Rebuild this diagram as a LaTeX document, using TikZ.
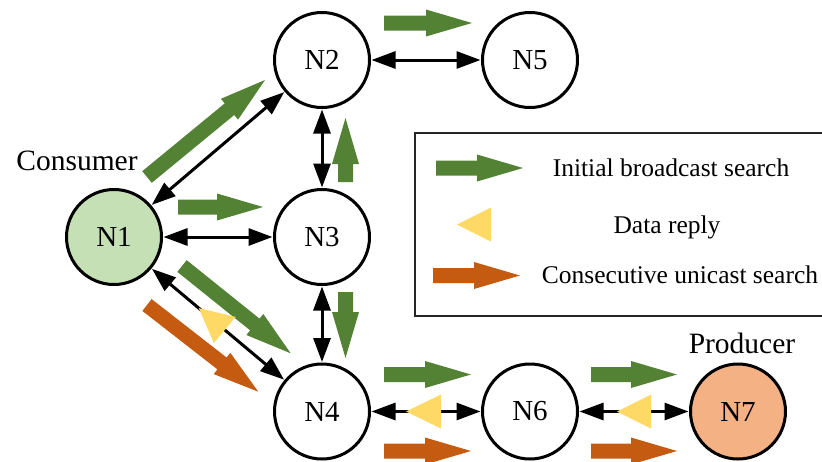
\documentclass[tikz,border=0pt]{standalone}
\usepackage{fontspec}
\setmainfont{Liberation Serif}
\usetikzlibrary{arrows.meta,calc}

\definecolor{bcast}{HTML}{548235}
\definecolor{reply}{HTML}{FFD966}
\definecolor{ucast}{HTML}{C55A11}
\definecolor{consfill}{HTML}{C5E0B4}
\definecolor{prodfill}{HTML}{F4B183}

% block arrow: style, tail point, tip point
\newcommand{\blockarr}[3]{%
  \path (#2) coordinate (ba-t) (#3) coordinate (ba-p);
  \path ($(ba-p)!46pt!(ba-t)$) coordinate (ba-n);
  \fill[#1] ($(ba-t)!7.5pt!90:(ba-p)$) -- ($(ba-n)!7.5pt!90:(ba-p)$)
    -- ($(ba-n)!13.5pt!90:(ba-p)$) -- (ba-p)
    -- ($(ba-n)!13.5pt!-90:(ba-p)$) -- ($(ba-n)!7.5pt!-90:(ba-p)$)
    -- ($(ba-t)!7.5pt!-90:(ba-p)$) -- cycle;}
% reply triangle: tip point, base centre
\newcommand{\replytri}[2]{%
  \path (#1) coordinate (rt-p) (#2) coordinate (rt-b);
  \fill[reply] (rt-p) -- ($(rt-b)!17pt!90:(rt-p)$) -- ($(rt-b)!17pt!-90:(rt-p)$) -- cycle;}

\begin{document}
\begin{tikzpicture}[x=1pt,y=-1pt,
  peer/.style={circle,draw=black,line width=3pt,minimum size=95pt,inner sep=0pt,
    font=\fontsize{29}{34}\selectfont},
  link/.style={line width=3pt,{Triangle[length=24pt,width=17pt]}-{Triangle[length=24pt,width=17pt]},shorten <=0.5pt,shorten >=0.5pt},
  lab/.style={font=\fontsize{29.5}{34}\selectfont,anchor=base},
  legtext/.style={font=\fontsize{25.5}{30}\selectfont,anchor=base}]
\useasboundingbox (0,0) rectangle (822,461);
\clip (0,0) rectangle (822,461);

% peers
\node[peer,fill=consfill] (n1) at (114,237) {N1};
\node[peer] (n2) at (322,60) {N2};
\node[peer] (n3) at (322,237) {N3};
\node[peer] (n4) at (322,411.5) {N4};
\node[peer] (n5) at (530,60) {N5};
\node[peer] (n6) at (530,411.5) {N6};
\node[peer,fill=prodfill] (n7) at (738,411.5) {N7};

\node[lab] (cons) at (77,170) {Consumer};
\node[lab] (prod) at (742,353) {Producer};

% links
\draw[link] (n1) -- (n2);
\draw[link] (n1) -- (n3);
\draw[link] (n1) -- (n4);
\draw[link] (n2) -- (n3);
\draw[link] (n3) -- (n4);
\draw[link] (n2) -- (n5);
\draw[link] (n4) -- (n6);
\draw[link] (n6) -- (n7);

% initial broadcast search
\blockarr{bcast}{384,23}{472,23}
\blockarr{bcast}{147,177}{265,80}
\blockarr{bcast}{178,207}{263,207}
\blockarr{bcast}{345.5,182}{345.5,118}
\blockarr{bcast}{345.5,292}{345.5,358}
\blockarr{bcast}{182,266}{290.7,353.3}
\blockarr{bcast}{384,374.5}{471,374.5}
\blockarr{bcast}{591,374.5}{677,374.5}

% consecutive unicast search
\blockarr{ucast}{147,305}{258.3,391.7}
\blockarr{ucast}{384,451}{471,451}
\blockarr{ucast}{591,451}{677,451}

% data replies
\replytri{$(n1)!110.6pt!(n4)$}{$(n1)!144.6pt!(n4)$}
\replytri{406,411.5}{441,411.5}
\replytri{617,411.5}{651,411.5}

% legend
\draw[line width=2pt,draw=black!85] (415,132.5) rectangle (840,315.5);
\blockarr{bcast}{436,168}{523,168}
\replytri{457,224.5}{491,224.5}
\blockarr{ucast}{433,275.5}{520,275.5}
\node[legtext] (l1) at (671,176.5) {Initial broadcast search};
\node[legtext] (l2) at (667,233) {Data reply};
\node[legtext] (l3) at (680,283) {Consecutive unicast search};
\end{tikzpicture}
\end{document}
